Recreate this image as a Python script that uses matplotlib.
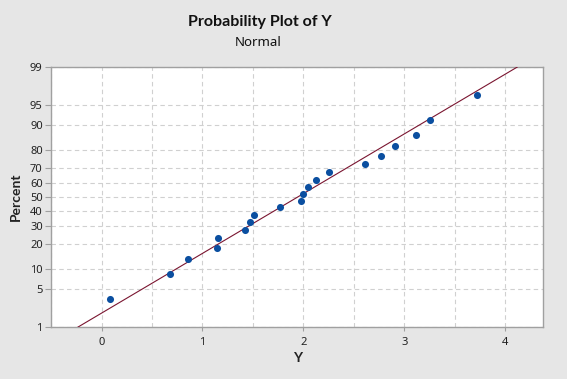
import numpy as np
import matplotlib
matplotlib.use("Agg")
import matplotlib.pyplot as plt
from statistics import NormalDist

# Data (sorted Y values)
y_values = [0.082, 0.683, 0.855, 1.142, 1.149, 1.426, 1.475, 1.515, 1.766, 1.980,
            1.993, 2.043, 2.129, 2.251, 2.607, 2.766, 2.904, 3.112, 3.251, 3.716]
pct_ticks = [1, 5, 10, 20, 30, 40, 50, 60, 70, 80, 90, 95, 99]
x_ticks = [0, 1, 2, 3, 4]

nd = NormalDist()


def fwd(p):
    p = np.clip(np.asarray(p, dtype=float) / 100.0, 1e-9, 1 - 1e-9)
    return np.vectorize(nd.inv_cdf, otypes=[float])(p)


def inv(z):
    z = np.asarray(z, dtype=float)
    return 100.0 * np.vectorize(nd.cdf, otypes=[float])(z)


# median ranks (Benard) as used by Minitab
n = len(y_values)
ranks = np.arange(1, n + 1)
pct = 100.0 * (ranks - 0.3) / (n + 0.4)

# fitted normal line
mu = np.mean(y_values)
sd = np.std(y_values, ddof=1)
line_pct = np.array([1.0, 99.0])
line_x = mu + sd * fwd(line_pct)

plt.rcParams['font.family'] = ['Noto Sans', 'DejaVu Sans']
bold_font = ['Lato', 'DejaVu Sans']
bg = '#e6e6e6'

fig = plt.figure(figsize=(5.67, 3.79), dpi=100, facecolor=bg)
ax = fig.add_axes([0.090, 0.137, 0.868, 0.686])
ax.set_facecolor('white')
ax.set_yscale('function', functions=(fwd, inv))

ax.plot(line_x, line_pct, color='#7a1530', lw=0.8, zorder=3)
ax.scatter(y_values, pct, s=26, color='#0b4fa0', zorder=4, linewidths=0)

ax.set_xlim(-0.5, 4.375)
ax.set_ylim(1, 99)
ax.set_xticks(x_ticks)
ax.set_xticks(np.arange(-0.5, 4.4, 0.5), minor=True)
ax.set_yticks(pct_ticks)
ax.set_yticklabels([str(t) for t in pct_ticks])
ax.yaxis.set_minor_locator(matplotlib.ticker.NullLocator())

ax.grid(True, which='both', axis='x', color='#d0d0d0', ls=(0, (4, 3)), lw=0.8)
ax.grid(True, which='major', axis='y', color='#d0d0d0', ls=(0, (4, 3)), lw=0.8)
ax.set_axisbelow(True)

for s in ax.spines.values():
    s.set_color('#a0a0a0')
    s.set_linewidth(1.0)

ax.tick_params(axis='both', which='major', colors='#a0a0a0', labelcolor='#222222',
               labelsize=8)
ax.tick_params(axis='y', length=4, pad=2)
ax.tick_params(axis='x', length=3, pad=4)
ax.tick_params(axis='x', which='minor', length=0)

ax.set_xlabel('Y', fontsize=10, fontweight='bold', family=bold_font,
              color='#222222', labelpad=3)
ax.set_ylabel('Percent', fontsize=10, fontweight='bold', family=bold_font,
              color='#222222', labelpad=6)

fig.text(0.458, 0.942, 'Probability Plot of Y', ha='center', va='center',
         fontsize=11.5, fontweight='bold', family=bold_font, color='#111111')
fig.text(0.456, 0.889, 'Normal', ha='center', va='center',
         fontsize=9.5, color='#111111')

fig.savefig('out.png', dpi=100, facecolor=bg)
